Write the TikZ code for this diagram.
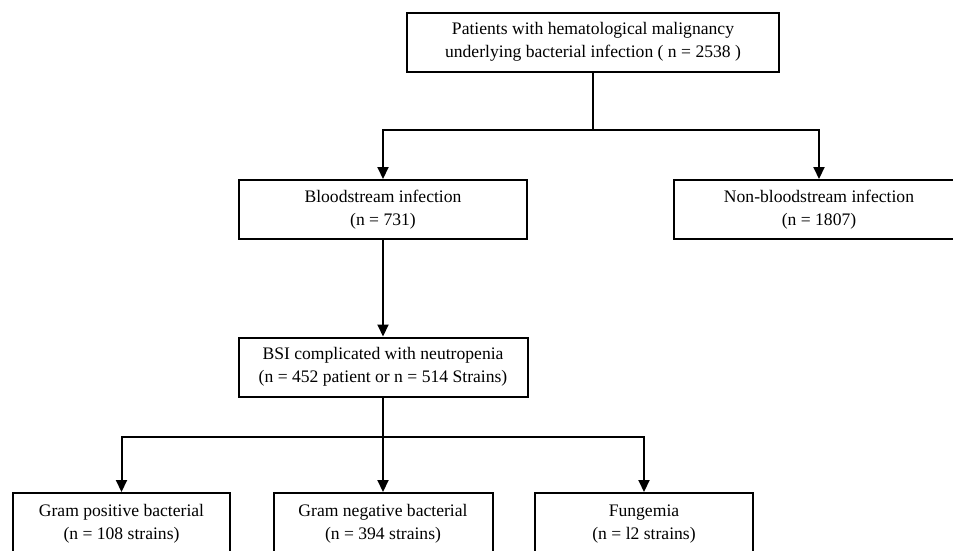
\documentclass[tikz,border=0pt]{standalone}
\usepackage{fontspec}
\setmainfont{Liberation Serif}
\usetikzlibrary{arrows.meta}
\begin{document}
\begin{tikzpicture}[x=1pt, y=-1pt,
    font=\fontsize{17.6}{23}\selectfont,
    flowbox/.style={draw, line width=2pt, align=center, inner sep=2pt,
                    minimum height=59pt},
    link/.style={line width=2pt},
    arr/.style={link, -{Triangle[width=11pt,length=12pt]}}]
\useasboundingbox (0,0) rectangle (953,550);
% top level
\node[flowbox, minimum width=372pt] (patients) at (593,42)
  {Patients with hematological malignancy\\underlying bacterial infection ( n = 2538 )};
% second level
\node[flowbox, minimum width=288pt] (blood) at (383,209.5)
  {Bloodstream infection\\(n = 731)};
\node[flowbox, minimum width=290pt] (nonblood) at (819,209.5)
  {Non-bloodstream infection\\(n = 1807)};
% third level
\node[flowbox, minimum width=289pt] (bsi) at (383,367)
  {BSI complicated with neutropenia\\(n = 452 patient or n = 514 Strains)};
% bottom level
\node[flowbox, minimum width=217pt, minimum height=62pt] (gpos) at (121.5,524)
  {Gram positive bacterial\\(n = 108 strains)};
\node[flowbox, minimum width=219pt, minimum height=62pt] (gneg) at (383,524)
  {Gram negative bacterial\\(n = 394 strains)};
\node[flowbox, minimum width=218pt, minimum height=62pt] (fung) at (644,524)
  {Fungemia\\(n = l2 strains)};

\coordinate (split1) at (593,130);
\coordinate (split2) at (383,437);
\draw[link] (patients.south) -- (split1);
\draw[arr] (split1) -| (blood.north);
\draw[arr] (split1) -| (nonblood.north);
\draw[arr] (blood.south) -- (bsi.north);
\draw[link] (bsi.south) -- (split2);
\draw[arr] (split2) -| (gpos.north);
\draw[arr] (split2) -- (gneg.north);
\draw[arr] (split2) -| (fung.north);
\end{tikzpicture}
\end{document}
